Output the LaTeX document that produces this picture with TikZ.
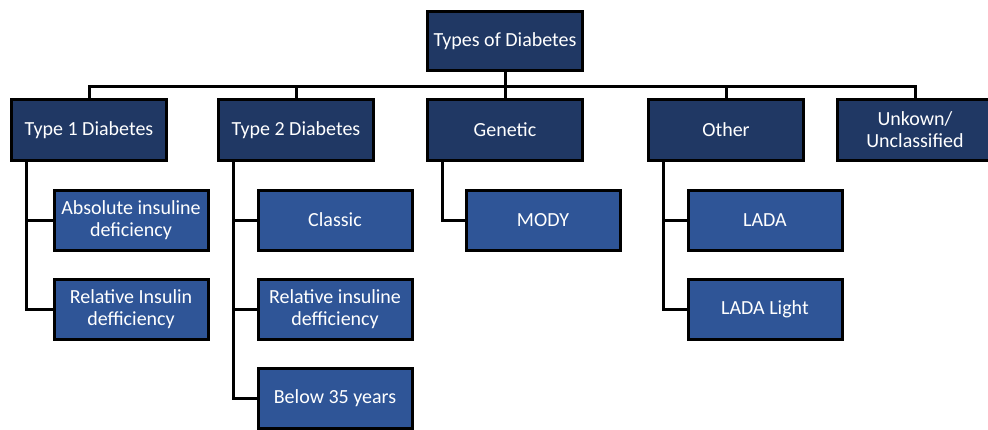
\documentclass[tikz,border=0pt]{standalone}
\usepackage{fontspec}
\setmainfont{Carlito}
\usepackage{tikz}
\usetikzlibrary{positioning,calc}
\definecolor{topF}{HTML}{203864}
\definecolor{subF}{HTML}{2F5597}
\tikzset{
 box/.style={draw=black, line width=3pt, align=center, inner sep=2pt, text=white,
             minimum width=155pt, minimum height=61pt,
             font=\fontsize{20}{22}\selectfont},
 headbox/.style={box, fill=topF},
 leafbox/.style={box, fill=subF, minimum width=154pt, minimum height=60pt},
 lin/.style={line width=3pt, draw=black},
}
\begin{document}
\begin{tikzpicture}[x=1pt,y=-1pt]
\useasboundingbox (0,0) rectangle (988,429);
% root
\node[headbox, minimum height=59pt] (root) at (505,41) {Types of Diabetes};
% categories
\node[headbox] (t1) at (89,130) {Type 1 Diabetes};
\node[headbox] (t2) at (296,130) {Type 2 Diabetes};
\node[headbox] (gen) at (505,130) {Genetic};
\node[headbox] (oth) at (726,130) {Other};
\node[headbox] (unk) at (915,130) {Unkown/\\Unclassified};
% subtypes
\node[leafbox] (abs) at (131,220) {Absolute insuline\\deficiency};
\node[leafbox] (relA) at (131,309) {Relative Insulin\\defficiency};
\node[leafbox] (cla) at (335,220) {Classic};
\node[leafbox] (relB) at (335,309) {Relative insuline\\defficiency};
\node[leafbox] (bel) at (335,398) {Below 35 years};
\node[leafbox] (mody) at (543,220) {MODY};
\node[leafbox] (lada) at (765,220) {LADA};
\node[leafbox] (ladl) at (765,309) {LADA Light};
% bus
\coordinate (bus) at (505,86);
\draw[lin] (root.south) -- (bus);
\draw[lin] (t1.north) |- (bus) -| (unk.north);
\draw[lin] (t2.north) -- (t2.north |- bus);
\draw[lin] (gen.north) -- (gen.north |- bus);
\draw[lin] (oth.north) -- (oth.north |- bus);
% branches
\draw[lin] ([xshift=16pt]t1.south west) |- (abs.west);
\draw[lin] ([xshift=16pt]t1.south west) |- (relA.west);
\draw[lin] ([xshift=16pt]t2.south west) |- (cla.west);
\draw[lin] ([xshift=16pt]t2.south west) |- (relB.west);
\draw[lin] ([xshift=16pt]t2.south west) |- (bel.west);
\draw[lin] ([xshift=16pt]gen.south west) |- (mody.west);
\draw[lin] ([xshift=16pt]oth.south west) |- (lada.west);
\draw[lin] ([xshift=16pt]oth.south west) |- (ladl.west);
\end{tikzpicture}
\end{document}
